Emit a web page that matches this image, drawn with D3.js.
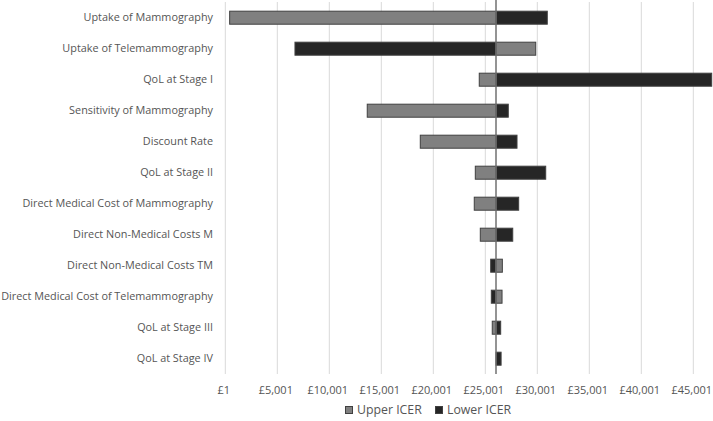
<!DOCTYPE html>
<html><head><meta charset="utf-8">
<script src="https://cdn.jsdelivr.net/npm/d3@7"></script>
<style>body{margin:0;background:#fff;}svg{display:block;}text{font-family:"Open Sans",sans-serif;}</style>
</head><body><div id="chart"></div>
<script>
const categories = ["Uptake of Mammography","Uptake of Telemammography","QoL at Stage I","Sensitivity of Mammography","Discount Rate","QoL at Stage II","Direct Medical Cost of Mammography","Direct Non-Medical Costs M","Direct Non-Medical Costs TM","Direct Medical Cost of Telemammography","QoL at Stage III","QoL at Stage IV"];
const baseICER = 26030;
const upperICER = [420, 29850, 24420, 13650, 18750, 24040, 23940, 24520, 26640, 26610, 25670, 26030];
const lowerICER = [30960, 6700, 46770, 27210, 28050, 30810, 28210, 27640, 25520, 25580, 26480, 26520];
const tickValues = [1,5001,10001,15001,20001,25001,30001,35001,40001,45001];
const seriesNames = ["Upper ICER","Lower ICER"];

const W = 713, H = 421;
const svg = d3.select("#chart").append("svg").attr("width", W).attr("height", H);
const x = d3.scaleLinear().domain([1, 47001]).range([225.3, 714.1]);
const y = d3.scaleBand().domain(categories).range([2.2, 374.2]).paddingInner(0.58).paddingOuter(0.29);

// gridlines
svg.append("g").selectAll("line").data(tickValues).join("line")
  .attr("x1", d => x(d)).attr("x2", d => x(d)).attr("y1", 2).attr("y2", 374)
  .attr("stroke", "#d9d9d9").attr("stroke-width", 1);

// category labels
const yAxis = d3.axisLeft(y).tickSize(0).tickPadding(0);
const ya = svg.append("g").attr("transform", "translate(213,0)").call(yAxis);
ya.select(".domain").remove();
ya.selectAll("text").attr("fill", "#555555").attr("font-size", "10.85px").style("font-family", '"Open Sans",sans-serif');

// x labels
const xAxis = d3.axisBottom(x).tickValues(tickValues).tickSize(0).tickPadding(0).tickFormat(d => "£" + d3.format(",")(d));
const xa = svg.append("g").attr("transform", "translate(-2,386)").call(xAxis);
xa.select(".domain").remove();
xa.selectAll("text").attr("fill", "#555555").attr("font-size", "11px").style("font-family", '"Open Sans",sans-serif');

const colors = ["#808080", "#262626"];
function drawSeries(vals, color) {
  svg.append("g").selectAll("rect").data(categories).join("rect")
    .attr("x", (c, i) => Math.min(x(vals[i]), x(baseICER)))
    .attr("width", (c, i) => Math.abs(x(vals[i]) - x(baseICER)))
    .attr("y", c => y(c)).attr("height", y.bandwidth())
    .attr("fill", color).attr("stroke", "#404040").attr("stroke-width", 1)
    .attr("display", (c, i) => Math.abs(x(vals[i]) - x(baseICER)) < 0.5 ? "none" : null);
}
drawSeries(upperICER, colors[0]);
drawSeries(lowerICER, colors[1]);

// base line
svg.append("line").attr("x1", x(baseICER)).attr("x2", x(baseICER)).attr("y1", 0).attr("y2", 374)
  .attr("stroke", "#707070").attr("stroke-width", 1.5);

// legend
const leg = svg.append("g");
const legX = [345, 435];
seriesNames.forEach((n, i) => {
  leg.append("rect").attr("x", legX[i] + 0.5).attr("y", 406.5).attr("width", 7).attr("height", 7)
    .attr("fill", colors[i]).attr("stroke", "#404040");
  leg.append("text").attr("x", legX[i] + 12).attr("y", 414).attr("font-size", "12.3px").attr("fill", "#555555").text(n);
});
</script></body></html>
